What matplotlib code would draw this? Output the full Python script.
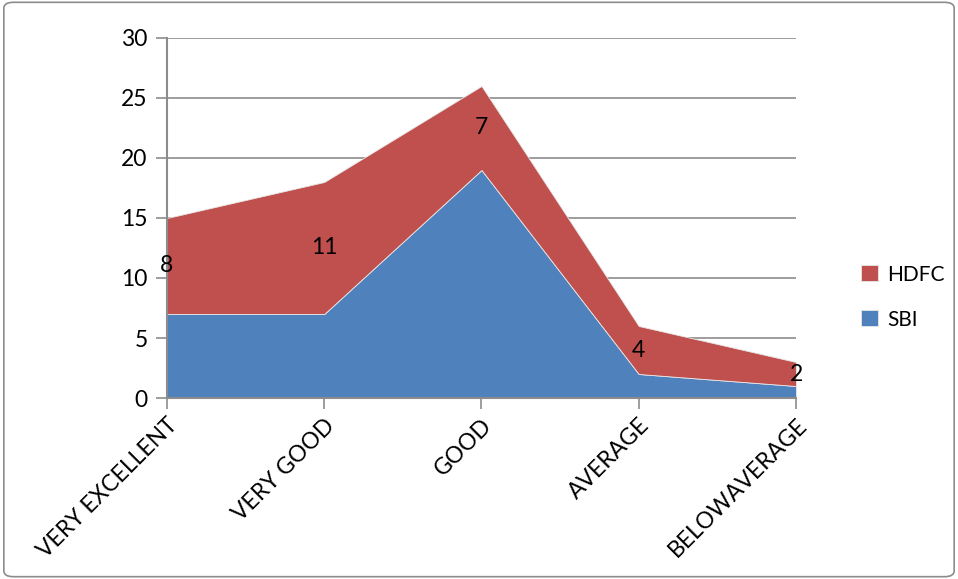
import numpy as np
import matplotlib.pyplot as plt
from matplotlib.patches import FancyBboxPatch

categories = ['VERY EXCELLENT', 'VERY GOOD', 'GOOD', 'AVERAGE', 'BELOWAVERAGE']
sbi = [7, 7, 19, 2, 1]
hdfc = [8, 11, 7, 4, 2]

plt.rcParams['font.family'] = ['Lato', 'DejaVu Sans']

fig = plt.figure(figsize=(9.58, 5.79), dpi=100)
ax = fig.add_axes([0.1743, 0.3126, 0.6566, 0.6218])

x = np.arange(len(categories))
sbi_arr = np.array(sbi)
hdfc_arr = np.array(hdfc)

ax.stackplot(x, sbi_arr, hdfc_arr, colors=['#4F81BD', '#C0504D'],
             labels=['SBI', 'HDFC'], edgecolor='#E8E8E8', linewidth=0.6, zorder=2)

# HDFC value labels in the middle of their band
for xi, base, h in zip(x, sbi_arr, hdfc_arr):
    ax.text(xi, base + h / 2, str(h), ha='center', va='center', fontsize=16.5, zorder=3)

ax.set_xlim(0, len(categories) - 1)
ax.set_ylim(0, 30)
ax.set_yticks(range(0, 31, 5))
ax.yaxis.grid(True, color='#8C8C8C', linewidth=1.2, zorder=0)
ax.set_axisbelow(True)

ax.set_xticks(x)
ax.set_xticklabels(categories, rotation=45, ha='right', rotation_mode='anchor', fontsize=16.5)
ax.tick_params(axis='y', labelsize=16.5, length=8, width=1.2, color='#8C8C8C', pad=6)
ax.tick_params(axis='x', length=8, width=1.2, color='#8C8C8C', pad=4)

for side in ['top', 'right']:
    ax.spines[side].set_visible(False)
for side in ['left', 'bottom']:
    ax.spines[side].set_color('#8C8C8C')
    ax.spines[side].set_linewidth(1.5)
ax.spines['bottom'].set_zorder(4)

handles, labels = ax.get_legend_handles_labels()
fig.legend(handles[::-1], labels[::-1], loc='center left', bbox_to_anchor=(0.899, 0.487),
           frameon=False, fontsize=15, handlelength=0.8, handleheight=0.8,
           labelspacing=1.2, handletextpad=0.45, borderpad=0, borderaxespad=0)

border = FancyBboxPatch((0.004, 0.004), 0.992, 0.992, boxstyle='round,pad=0,rounding_size=0.01',
                        transform=fig.transFigure, fill=False, edgecolor='#8C8C8C', linewidth=1.2)
fig.patches.append(border)

fig.savefig('out.png', dpi=100)
